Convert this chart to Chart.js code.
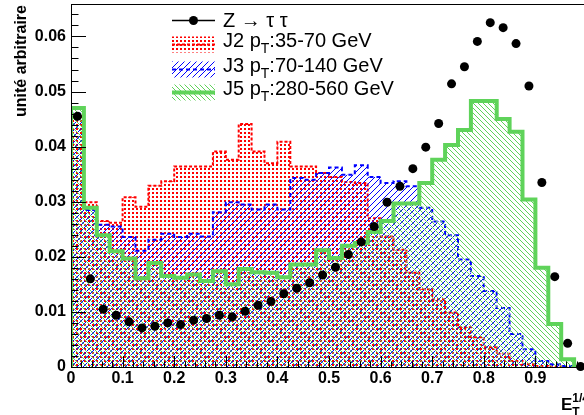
<!DOCTYPE html>
<html>
<head>
<meta charset="utf-8">
<script src="https://cdn.jsdelivr.net/npm/chart.js@4.4.0/dist/chart.umd.min.js"></script>
<style>
  html, body { margin: 0; padding: 0; background: #fff; overflow: hidden; }
  #wrap { width: 584px; height: 415px; overflow: hidden; }
</style>
</head>
<body>
<div id="wrap"><canvas id="chart" width="600" height="415"></canvas></div>
<script>
// --- binning (E_T^{1/4}, 40 bins from 0 to 1) ---
const nBins = 40;
const xLow = 0, xHigh = 1;
const binWidth = (xHigh - xLow) / nBins;

// --- series, one value per bin ---
const zTauTau = [0.0455, 0.0160, 0.0105, 0.0094, 0.0082, 0.0071, 0.0074, 0.0080, 0.0077, 0.0085,
  0.0088, 0.0094, 0.0091, 0.0101, 0.0112, 0.0119, 0.0133, 0.0143, 0.0153, 0.0167,
  0.0181, 0.0204, 0.0227, 0.0255, 0.0299, 0.0328, 0.0360, 0.0399, 0.0442, 0.0514,
  0.0545, 0.0591, 0.0625, 0.0616, 0.0587, 0.0510, 0.0335, 0.0164, 0.0043, 0.0001];

const j2 = [0.0455, 0.0299, 0.0265, 0.0262, 0.0308, 0.0291, 0.0329, 0.0337, 0.0364, 0.0364,
  0.0364, 0.0391, 0.0376, 0.0441, 0.0391, 0.0370, 0.0409, 0.0364, 0.0364, 0.0352,
  0.0345, 0.0336, 0.0334, 0.0270, 0.0237, 0.0213, 0.0171, 0.0141, 0.0123, 0.0099,
  0.0072, 0.0054, 0.0036, 0.0024, 0.0011, 0.0005, 0.0002, 0.0001, 0, 0];

const j3 = [0.0460, 0.0285, 0.0258, 0.0255, 0.0236, 0.0211, 0.0231, 0.0242, 0.0236, 0.0242,
  0.0237, 0.0281, 0.0299, 0.0295, 0.0286, 0.0295, 0.0286, 0.0343, 0.0340, 0.0352,
  0.0362, 0.0349, 0.0366, 0.0345, 0.0334, 0.0337, 0.0328, 0.0289, 0.0264, 0.0239,
  0.0195, 0.0165, 0.0138, 0.0107, 0.0060, 0.0032, 0.0011, 0.0005, 0.0002, 0.0001];

const j5 = [0.0470, 0.0289, 0.0239, 0.0210, 0.0197, 0.0161, 0.0189, 0.0165, 0.0162, 0.0168,
  0.0156, 0.0174, 0.0150, 0.0178, 0.0172, 0.0171, 0.0163, 0.0186, 0.0186, 0.0212,
  0.0198, 0.0220, 0.0225, 0.0245, 0.0265, 0.0297, 0.0297, 0.0334, 0.0376, 0.0403,
  0.0430, 0.0483, 0.0483, 0.0450, 0.0427, 0.0304, 0.0180, 0.0078, 0.0014, 0];

// --- axes ---
const xTickValues = [0, 0.1, 0.2, 0.3, 0.4, 0.5, 0.6, 0.7, 0.8, 0.9];
const xTickLabels = ['0', '0.1', '0.2', '0.3', '0.4', '0.5', '0.6', '0.7', '0.8', '0.9'];
const yTickValues = [0, 0.01, 0.02, 0.03, 0.04, 0.05, 0.06];
const yTickLabels = ['0', '0.01', '0.02', '0.03', '0.04', '0.05', '0.06'];
const yMax = 0.0658;
const xMinorStep = 0.02, yMinorStep = 0.002;

const FONT = "'Liberation Sans', Arial, Helvetica, sans-serif";
const RED = '#ff0000', BLUE = '#0000ff', GREEN = '#5fd35a';

// fill patterns (ROOT style)
function makePattern(size, draw) {
    const c = document.createElement('canvas');
    c.width = size; c.height = size;
    draw(c.getContext('2d'), size);
    return c.getContext('2d').createPattern(c, 'repeat');
}
const dotsRed = makePattern(4, (g) => { g.fillStyle = RED; g.fillRect(0, 0, 2, 2); });
const hatchBlue = makePattern(6, (g, s) => { g.fillStyle = BLUE; for (let i = 0; i < s; i++) g.fillRect(i, s - 1 - i, 1, 1); });
const hatchGreen = makePattern(5, (g, s) => { g.fillStyle = GREEN; for (let i = 0; i < s; i++) g.fillRect(i, i, 1, 1); });

// histogram outline: one point per bin low edge, closed at both ends
function histPoints(vals) {
    const pts = [{ x: xLow, y: 0 }];
    vals.forEach((v, i) => pts.push({ x: xLow + i * binWidth, y: v }));
    pts.push({ x: xHigh, y: vals[vals.length - 1] });
    pts.push({ x: xHigh, y: 0 });
    return pts;
}
const binCenters = (vals) => vals.map((v, i) => ({ x: xLow + (i + 0.5) * binWidth, y: v }));

// texte avec indices / exposants
function drawRich(ctx, x, base, parts, size, weight) {
    parts.forEach(p => {
        const fs = p.sub || p.sup ? Math.round(size * 0.7) : size;
        ctx.font = `${weight} ${fs}px ${FONT}`;
        const dy = p.sub ? size * 0.33 : (p.sup ? -size * 0.45 : 0);
        ctx.fillText(p.t, x, base + dy);
        if (!p.keep) x += ctx.measureText(p.t).width;
    });
}

const legendEntries = [
    { kind: 'marker', cy: 20.5, base: 27, parts: [{ t: 'Z \u2192 \u03C4 \u03C4' }] },
    { kind: 'box', cy: 44.5, base: 46.5, fill: dotsRed, line: RED, width: 2, dash: [3, 2],
      parts: [{ t: 'J2 p' }, { t: 'T', sub: true }, { t: ':35-70 GeV' }] },
    { kind: 'box', cy: 69.5, base: 71.5, fill: hatchBlue, line: BLUE, width: 2, dash: [4, 3],
      parts: [{ t: 'J3 p' }, { t: 'T', sub: true }, { t: ':70-140 GeV' }] },
    { kind: 'box', cy: 92.5, base: 94.5, fill: hatchGreen, line: GREEN, width: 4, dash: [],
      parts: [{ t: 'J5 p' }, { t: 'T', sub: true }, { t: ':280-560 GeV' }] }
];

const rootDecor = {
    id: 'rootDecor',
    afterDatasetsDraw(chart) {
        const { ctx, chartArea: a, scales: { x, y } } = chart;
        ctx.save();
        ctx.strokeStyle = '#000';
        ctx.lineWidth = 1;
        ctx.beginPath();
        // ticks inside the frame
        for (let k = 0; k * yMinorStep <= yMax + 1e-9; k++) {
            const py = Math.round(y.getPixelForValue(k * yMinorStep)) + 0.5;
            const len = k % 5 === 0 ? 15 : 7.5;
            ctx.moveTo(a.left, py); ctx.lineTo(a.left + len, py);
        }
        for (let k = 0; k * xMinorStep <= xHigh + 1e-9; k++) {
            const px = Math.round(x.getPixelForValue(k * xMinorStep)) + 0.5;
            const len = k % 5 === 0 ? 11 : 5.5;
            ctx.moveTo(px, a.bottom); ctx.lineTo(px, a.bottom - len);
        }
        // frame
        ctx.moveTo(a.left + 0.5, a.top); ctx.lineTo(a.left + 0.5, a.bottom + 0.5);
        ctx.lineTo(a.right, a.bottom + 0.5);
        ctx.stroke();
        ctx.beginPath();
        ctx.moveTo(a.left, a.top); ctx.lineTo(a.right, a.top);
        ctx.stroke();
        ctx.restore();
    },
    afterDraw(chart) {
        const ctx = chart.ctx;
        ctx.save();
        ctx.fillStyle = '#000';
        ctx.textAlign = 'left';
        ctx.textBaseline = 'alphabetic';

        // legend
        const bx0 = 172, bx1 = 215, tx = 223;
        legendEntries.forEach(e => {
            if (e.kind === 'marker') {
                ctx.strokeStyle = '#000'; ctx.lineWidth = 1.5;
                ctx.beginPath(); ctx.moveTo(bx0, e.cy); ctx.lineTo(bx1, e.cy); ctx.stroke();
                ctx.beginPath(); ctx.arc((bx0 + bx1) / 2, e.cy, 4.5, 0, Math.PI * 2); ctx.fill();
            } else {
                ctx.fillStyle = e.fill;
                ctx.fillRect(bx0, e.cy - 8, bx1 - bx0, 16);
                ctx.strokeStyle = e.line; ctx.lineWidth = e.width; ctx.setLineDash(e.dash);
                ctx.beginPath(); ctx.moveTo(bx0, e.cy); ctx.lineTo(bx1, e.cy); ctx.stroke();
                ctx.setLineDash([]);
                ctx.fillStyle = '#000';
            }
            drawRich(ctx, tx, e.base, e.parts, 20, 'normal');
        });

        // y title, ROOT style: rotated, aligned to the top
        ctx.save();
        ctx.translate(26, 5);
        ctx.rotate(-Math.PI / 2);
        ctx.textAlign = 'right';
        ctx.font = `bold 16px ${FONT}`;
        ctx.fillText('unité arbitraire', 0, 0);
        ctx.restore();

        // x title E_T^{1/4}
        ctx.textAlign = 'left';
        drawRich(ctx, 561, 410, [{ t: 'E' }, { t: '1/4', sup: true, keep: true }, { t: 'T', sub: true }], 17, 'bold');
        ctx.restore();
    }
};

const ctx = document.getElementById('chart');
new Chart(ctx, {
    type: 'line',
    data: {
        datasets: [
            {
                label: 'Z \u2192 \u03C4 \u03C4',
                type: 'scatter',
                data: binCenters(zTauTau),
                showLine: false,
                pointRadius: 4.5,
                pointBackgroundColor: '#000',
                pointBorderColor: '#000',
                pointBorderWidth: 0,
                clip: false
            },
            {
                label: 'J5 pT:280-560 GeV',
                data: histPoints(j5),
                stepped: true,
                borderColor: GREEN,
                borderWidth: 4,
                backgroundColor: hatchGreen,
                fill: 'origin',
                pointRadius: 0
            },
            {
                label: 'J3 pT:70-140 GeV',
                data: histPoints(j3),
                stepped: true,
                borderColor: BLUE,
                borderWidth: 2,
                borderDash: [4, 3],
                backgroundColor: hatchBlue,
                fill: 'origin',
                pointRadius: 0
            },
            {
                label: 'J2 pT:35-70 GeV',
                data: histPoints(j2),
                stepped: true,
                borderColor: RED,
                borderWidth: 2,
                borderDash: [3, 2],
                backgroundColor: dotsRed,
                fill: 'origin',
                pointRadius: 0
            }
        ]
    },
    options: {
        responsive: false,
        animation: false,
        devicePixelRatio: 1,
        layout: { padding: { left: 0, top: 4, right: 13, bottom: 0 } },
        plugins: { legend: { display: false }, tooltip: { enabled: false } },
        scales: {
            x: {
                type: 'linear',
                min: xLow,
                max: xHigh,
                afterBuildTicks: (s) => { s.ticks = xTickValues.map(v => ({ value: v })); },
                afterFit: (s) => { s.height = 48; s.paddingLeft = 0; s.paddingRight = 0; },
                grid: { display: false, drawTicks: false },
                border: { display: false },
                ticks: {
                    autoSkip: false,
                    maxRotation: 0,
                    padding: 2,
                    color: '#000',
                    font: { family: FONT, size: 16, weight: 'bold' },
                    callback: (v, i) => xTickLabels[i]
                }
            },
            y: {
                min: 0,
                max: yMax,
                afterBuildTicks: (s) => { s.ticks = yTickValues.map(v => ({ value: v })); },
                afterFit: (s) => { s.width = 71; s.paddingTop = 0; s.paddingBottom = 0; },
                grid: { display: false, drawTicks: false },
                border: { display: false },
                ticks: {
                    padding: 5,
                    color: '#000',
                    font: { family: FONT, size: 16, weight: 'bold' },
                    callback: (v, i) => yTickLabels[i]
                }
            }
        }
    },
    plugins: [rootDecor]
});
</script>
</body>
</html>
